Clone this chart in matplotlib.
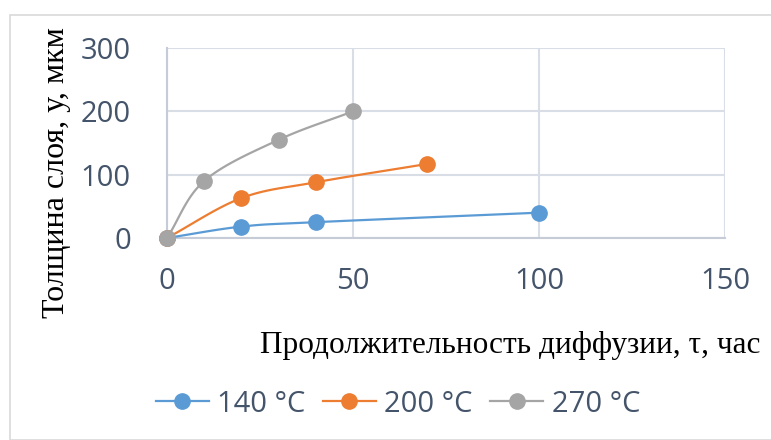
import numpy as np
import matplotlib
matplotlib.use("Agg")
from matplotlib import pyplot as plt
from matplotlib.patches import Rectangle

t_140 = [0, 20, 40, 100]
y_140 = [0, 18, 25, 40]
t_200 = [0, 20, 40, 70]
y_200 = [0, 63, 88, 117]
t_270 = [0, 10, 30, 50]
y_270 = [0, 90, 155, 200]
labels = ["140 °C", "200 °C", "270 °C"]
colors = ["#5B9BD5", "#ED7D31", "#A5A5A5"]
xticks = [0, 50, 100, 150]
yticks = [0, 100, 200, 300]

tick_font = ["Open Sans", "DejaVu Sans"]
serif_font = ["Liberation Serif", "DejaVu Serif"]
tick_color = "#44546A"


def smooth(x, y, n=30):
    # Catmull-Rom curve through the points, like Excel's smoothed line
    x = np.asarray(x, float)
    y = np.asarray(y, float)
    px = np.concatenate([[2 * x[0] - x[1]], x, [2 * x[-1] - x[-2]]])
    py = np.concatenate([[2 * y[0] - y[1]], y, [2 * y[-1] - y[-2]]])
    xs, ys = [], []
    s = np.linspace(0, 1, n)
    for i in range(1, len(px) - 2):
        for p, out in ((px, xs), (py, ys)):
            p0, p1, p2, p3 = p[i - 1], p[i], p[i + 1], p[i + 2]
            out.extend(0.5 * (2 * p1 + (-p0 + p2) * s
                              + (2 * p0 - 5 * p1 + 4 * p2 - p3) * s ** 2
                              + (-p0 + 3 * p1 - 3 * p2 + p3) * s ** 3))
    return np.array(xs), np.array(ys)


fig = plt.figure(figsize=(7.71, 4.40), dpi=100)
fig.patches.append(Rectangle((10 / 771, 0), 1, 1 - 15 / 440, transform=fig.transFigure,
                             fill=False, edgecolor="#D9D9D9", linewidth=1.2))
ax = fig.add_axes([167 / 771, 1 - 238 / 440, (725 - 167) / 771, (238 - 48) / 440])

for (tx, ty), lab, c in zip([(t_140, y_140), (t_200, y_200), (t_270, y_270)], labels, colors):
    sx, sy = smooth(tx, ty)
    ax.plot(sx, sy, color=c, linewidth=1.6, zorder=3, clip_on=False)
    ax.plot(tx, ty, "o", color=c, markersize=11, zorder=4, clip_on=False)
    ax.plot([], [], "-o", color=c, linewidth=1.6, markersize=11, label=lab)

ax.set_xlim(0, 150)
ax.set_ylim(0, 300)
ax.set_xticks(xticks)
ax.set_yticks(yticks)
ax.grid(True, color="#D9DDE6", linewidth=1.5)
ax.set_axisbelow(True)
for side in ("top", "right"):
    ax.spines[side].set_visible(False)
for side in ("left", "bottom"):
    ax.spines[side].set_color("#C5CCD8")
    ax.spines[side].set_linewidth(1.5)
ax.tick_params(length=0, labelsize=21, colors=tick_color)
ax.tick_params(axis="y", pad=26)
ax.tick_params(axis="x", pad=21)
for lab in ax.get_xticklabels() + ax.get_yticklabels():
    lab.set_family(tick_font)

fig.text(57 / 771, 1 - 173 / 440, "Толщина слоя, у, мкм", rotation=90, family=serif_font,
         fontsize=23, ha="center", va="center")
fig.text(260 / 771, 1 - 345 / 440, "Продолжительность диффузии, τ, час", family=serif_font,
         fontsize=22.5, ha="left", va="center")

fig.legend(loc="center", bbox_to_anchor=(398 / 771, 1 - 404 / 440), ncol=3, frameon=False,
           prop={"family": tick_font, "size": 21}, labelcolor=tick_color,
           handlelength=1.8, handletextpad=0.3, columnspacing=0.6)

fig.savefig("out.png", dpi=100)
